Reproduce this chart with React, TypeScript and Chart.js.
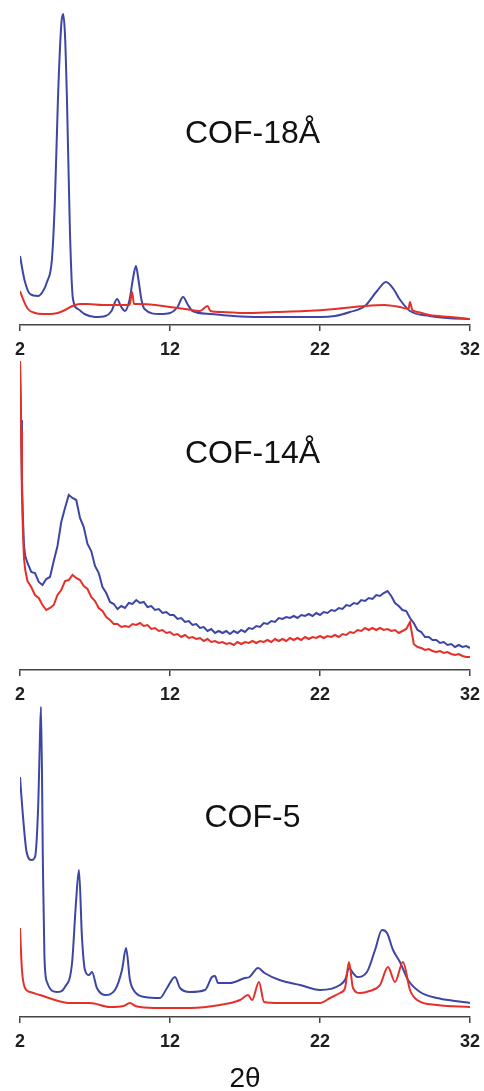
import React, { useEffect, useRef } from "react";
import { Chart, registerables } from "chart.js";
Chart.register(...registerables);

// ---------- shared axis ----------
const tickValues = [2, 12, 22, 32];
const panelTitles = ["COF-18Å", "COF-14Å", "COF-5"];
const xAxisTitle = "2θ";
const BLUE = "#3d45a5";
const RED = "#e5302a";
const FONT = '"Liberation Sans", Arial, sans-serif';

// ---------- COF-18Å (intensity, a.u.) ----------
const p1BlueX = [2.0, 2.3, 2.67, 3.2, 3.5, 3.8, 4.13, 4.33, 4.53, 4.75, 4.87, 5.0, 5.13, 5.33, 5.53, 5.87, 6.3, 7.0, 7.7, 8.1, 8.47, 8.75, 9.0, 9.3, 9.55, 9.73, 9.9, 10.1, 10.3, 11.3, 12.0, 12.5, 12.87, 13.2, 13.5, 14.7, 16.2, 18.0, 20.0, 22.0, 23.0, 24.0, 25.0, 25.8, 26.4, 26.9, 27.3, 28.0, 29.3, 30.5, 32.0];
const p1Blue = [69, 45, 31, 29, 33, 43, 66, 126, 226, 300, 311, 290, 226, 93, 26, 16, 11, 8, 9, 14, 26, 18, 14, 25, 48, 59, 45, 25, 16, 11, 12, 18, 28, 20, 14, 11, 9, 8, 8, 8, 9, 13, 19, 34, 43, 36, 26, 14, 9, 7, 6];
const p1RedX = [2.0, 2.2, 2.53, 3.0, 3.5, 4.0, 4.5, 5.0, 5.5, 6.0, 6.5, 7.5, 8.5, 9.3, 9.47, 9.6, 10.0, 11.0, 12.0, 13.0, 14.0, 14.5, 14.7, 15.5, 17.0, 19.0, 21.0, 23.0, 25.0, 26.3, 27.3, 27.9, 28.0, 28.15, 28.5, 29.3, 30.7, 32.0];
const p1Red = [34, 26, 16, 12, 11, 11, 12, 15, 19, 21, 21, 20, 20, 20, 33, 21, 21, 20, 18, 16, 14, 19, 14, 13, 12, 13, 14, 16, 19, 20, 18, 16, 23, 15, 13, 10, 8, 6];

// ---------- COF-14Å (intensity, a.u.) ----------
const p2HeadX = [2.0, 2.07, 2.13, 2.2, 2.27, 2.35];
const p2HeadBlue = [309, 250, 190, 150, 124, 114];
const p2HeadRed = [309, 240, 175, 135, 111, 100];
const p2ScanStart = 2.5;
const p2ScanStep = 0.25;
const p2Blue = [
  107, 98, 97, 88, 85, 91, 93, 109, 124, 148, 162, 175, 172, 170, 152, 143, 126, 119, 104, 97,
  83, 77, 68, 66, 61, 64, 62, 67, 66, 70, 67, 68, 63, 64, 60, 61, 57, 58, 55, 55,
  51, 52, 48, 49, 45, 46, 42, 43, 39, 41, 37, 39, 37, 39, 36, 39, 37, 40, 38, 42,
  41, 44, 43, 47, 46, 49, 48, 52, 51, 53, 52, 54, 52, 55, 54, 56, 54, 57, 55, 58,
  57, 60, 59, 62, 61, 65, 64, 67, 66, 70, 69, 72, 71, 75, 74, 77, 79, 74, 67, 64,
  60, 59, 52, 47, 40, 38, 33, 33, 30, 30, 27, 28, 25, 26, 23, 25, 23, 24, 22,
];
const p2Red = [
  89, 83, 75, 72, 65, 60, 62, 65, 75, 80, 89, 90, 95, 92, 90, 84, 81, 73, 69, 62,
  59, 53, 50, 46, 46, 43, 44, 43, 46, 45, 47, 44, 45, 41, 42, 39, 40, 37, 38, 35,
  36, 33, 35, 32, 33, 31, 32, 29, 31, 28, 29, 27, 28, 26, 27, 25, 28, 26, 28, 27,
  29, 27, 29, 28, 30, 28, 31, 29, 31, 29, 32, 30, 32, 30, 33, 31, 33, 32, 34, 32,
  34, 33, 35, 33, 36, 35, 38, 37, 40, 39, 42, 40, 42, 40, 42, 40, 41, 39, 40, 37,
  39, 41, 48, 26, 23, 22, 20, 21, 19, 18, 19, 17, 18, 16, 15, 16, 14, 13, 13,
];

// ---------- COF-5 (intensity, a.u.) ----------
const p3BlueX = [2.0, 2.22, 2.44, 2.78, 3.0, 3.22, 3.33, 3.4, 3.53, 3.63, 3.8, 4.47, 5.0, 5.47, 5.73, 5.93, 6.13, 6.33, 6.6, 6.8, 7.13, 7.67, 8.33, 8.8, 9.07, 9.33, 9.67, 10.33, 11.33, 11.8, 12.33, 12.67, 13.33, 14.33, 14.8, 15.0, 15.2, 16.0, 17.0, 17.3, 17.87, 18.3, 19.3, 20.67, 22.0, 23.33, 23.7, 23.93, 24.2, 24.47, 25.13, 25.67, 26.13, 26.47, 26.87, 27.33, 27.87, 28.67, 29.8, 31.0, 32.0];
const p3Blue = [240, 197, 165, 157, 160, 214, 280, 310, 150, 60, 35, 25, 30, 54, 114, 147, 80, 47, 42, 45, 29, 22, 27, 47, 69, 37, 25, 20, 19, 29, 40, 29, 25, 27, 40, 41, 34, 34, 39, 40, 49, 44, 37, 32, 27, 32, 38, 49, 44, 40, 45, 67, 87, 84, 67, 55, 37, 25, 19, 16, 14];
const p3RedX = [2.0, 2.13, 2.33, 2.67, 3.33, 4.33, 5.33, 6.67, 8.0, 8.9, 9.33, 9.7, 10.0, 11.33, 13.33, 15.33, 16.67, 17.2, 17.47, 17.93, 18.27, 19.3, 22.0, 22.67, 23.33, 23.67, 23.93, 24.2, 24.67, 25.3, 26.0, 26.53, 27.0, 27.53, 28.0, 28.47, 29.8, 32.0];
const p3Red = [89, 47, 29, 25, 22, 17, 14, 14, 10, 11, 14, 11, 10, 9, 9, 12, 17, 22, 17, 35, 15, 14, 14, 19, 24, 29, 55, 29, 24, 26, 32, 50, 35, 55, 27, 17, 12, 10];

function pairs(xs: number[], ys: number[]) {
  return ys.map((y, i) => ({ x: xs[i], y }));
}
function scanPairs(headX: number[], headY: number[], start: number, step: number, ys: number[]) {
  return [...pairs(headX, headY), ...ys.map((y, i) => ({ x: start + i * step, y }))];
}

const panelTitlePlugin = {
  id: "panelTitle",
  afterDatasetsDraw(chart: any, _args: any, opts: any) {
    if (!opts || !opts.text) return;
    const { ctx, scales } = chart;
    const x = scales.x.getPixelForValue(opts.x);
    const y = scales.y.getPixelForValue(opts.y);
    ctx.save();
    ctx.font = `32px ${FONT}`;
    ctx.fillStyle = "#111";
    ctx.textAlign = "center";
    ctx.textBaseline = "middle";
    ctx.fillText(opts.text, x, y);
    ctx.restore();
  },
};

const CANVAS_W = 500;

type PanelProps = {
  top: number;
  padTop: number;
  plotHeight: number;
  axisHeight: number;
  yMax: number;
  blue: { x: number; y: number }[];
  red: { x: number; y: number }[];
  title: string;
  titleX: number;
  titleY: number;
  lineWidth: number;
  tension: boolean;
  showAxisTitle?: boolean;
};

function Panel(p: PanelProps) {
  const ref = useRef<HTMLCanvasElement | null>(null);
  const height = p.padTop + p.plotHeight + p.axisHeight;
  useEffect(() => {
    if (!ref.current) return;
    const common = {
      pointRadius: 0,
      fill: false,
      borderWidth: p.lineWidth,
      cubicInterpolationMode: p.tension ? ("monotone" as const) : ("default" as const),
      tension: p.tension ? 0.4 : 0,
    };
    const chart = new Chart(ref.current, {
      type: "line",
      data: {
        datasets: [
          { ...common, label: "red", data: p.red, borderColor: RED },
          { ...common, label: "blue", data: p.blue, borderColor: BLUE },
        ],
      },
      options: {
        animation: false,
        responsive: false,
        maintainAspectRatio: false,
        events: [],
        layout: { padding: { left: 20, right: CANVAS_W - 470, top: p.padTop, bottom: 0 } },
        plugins: {
          legend: { display: false },
          tooltip: { enabled: false },
          title: { display: false },
          panelTitle: { text: p.title, x: p.titleX, y: p.titleY },
        } as any,
        scales: {
          x: {
            type: "linear",
            min: 2,
            max: 32,
            afterBuildTicks: (s: any) => {
              s.ticks = tickValues.map((v) => ({ value: v }));
            },
            afterFit: (s: any) => {
              s.height = p.axisHeight;
            },
            ticks: {
              autoSkip: false,
              maxRotation: 0,
              padding: 8,
              color: "#1e1e1e",
              font: { family: FONT, size: 18, weight: "bold" },
              callback: (v: any) => String(v),
            },
            grid: {
              display: true,
              drawOnChartArea: false,
              drawTicks: true,
              tickLength: 6,
              color: "#444",
              lineWidth: 1.5,
            },
            border: { display: true, color: "#444", width: 1.5 },
            title: {
              display: !!p.showAxisTitle,
              text: xAxisTitle,
              color: "#111",
              font: { family: FONT, size: 28, lineHeight: 0.85 },
              padding: { top: 0, bottom: 0 },
            },
          },
          y: { display: false, min: 0, max: p.yMax },
        },
      },
      plugins: [panelTitlePlugin],
    });
    return () => chart.destroy();
  }, []);
  return (
    <canvas
      ref={ref}
      width={CANVAS_W}
      height={height}
      style={{ position: "absolute", left: 0, top: p.top, width: CANVAS_W, height }}
    />
  );
}

export default function App() {
  return (
    <div style={{ position: "absolute", left: 0, top: 0, width: 484, height: 1091, background: "#fff", overflow: "hidden" }}>
      <Panel
        top={0}
        padTop={10}
        plotHeight={315}
        axisHeight={40}
        yMax={315}
        blue={pairs(p1BlueX, p1Blue)}
        red={pairs(p1RedX, p1Red)}
        title={panelTitles[0]}
        titleX={17.5}
        titleY={191}
        lineWidth={2}
        tension={true}
      />
      <Panel
        top={356}
        padTop={0}
        plotHeight={314}
        axisHeight={40}
        yMax={314}
        blue={scanPairs(p2HeadX, p2HeadBlue, p2ScanStart, p2ScanStep, p2Blue)}
        red={scanPairs(p2HeadX, p2HeadRed, p2ScanStart, p2ScanStep, p2Red)}
        title={panelTitles[1]}
        titleX={17.5}
        titleY={216}
        lineWidth={2}
        tension={false}
      />
      <Panel
        top={700}
        padTop={0}
        plotHeight={317}
        axisHeight={74}
        yMax={317}
        blue={pairs(p3BlueX, p3Blue)}
        red={pairs(p3RedX, p3Red)}
        title={panelTitles[2]}
        titleX={17.5}
        titleY={199}
        lineWidth={2}
        tension={true}
        showAxisTitle={true}
      />
    </div>
  );
}
